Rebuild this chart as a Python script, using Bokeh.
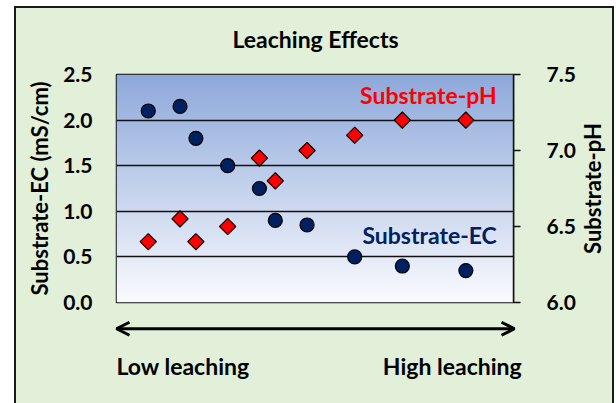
import math
import numpy as np
from bokeh.plotting import figure
from bokeh.layouts import column, row
from bokeh.models import (LinearAxis, Range1d, Label, Arrow, OpenHead,
                          SingleIntervalTicker, NumeralTickFormatter)
from bokeh.embed import file_html
from bokeh.resources import INLINE

# ---- data ----
leaching = [2, 4, 5, 7, 9, 10, 12, 15, 18, 22]
substrate_ec = [2.10, 2.15, 1.80, 1.50, 1.25, 0.90, 0.85, 0.50, 0.40, 0.35]
substrate_ph = [6.40, 6.55, 6.40, 6.50, 6.95, 6.80, 7.00, 7.10, 7.20, 7.20]
x_lim = (0, 25)
ec_lim = (0.0, 2.5)
ph_lim = (6.0, 7.5)
title_text = "Leaching Effects"
ec_label = "Substrate-EC (mS/cm)"
ph_label = "Substrate-pH"
low_text = "Low leaching"
high_text = "High leaching"

FONT = "Lato"
BG = "#e2efd9"
INK = "#111111"

# ---- layout numbers ----
W = 596
WR = 34                      # strip holding the right axis title
WP = W - WR
FRAME_W, FRAME_H = 398, 228
HT = 52                      # strip holding the chart title
B_LEFT, B_TOP, B_BOTTOM = 100, 14, 14
B_RIGHT = WP - B_LEFT - FRAME_W
H1 = B_TOP + FRAME_H + B_BOTTOM
H2 = 395 - HT - H1


def no_align(fig):
    try:
        fig.frame_align = False
    except Exception:
        pass


def strip(width, height, xr, yr):
    f = figure(width=width, height=height, output_backend="svg", toolbar_location=None,
               x_range=xr, y_range=yr, x_axis_location=None, y_axis_location=None,
               min_border_left=0, min_border_right=0, min_border_top=0, min_border_bottom=0)
    no_align(f)
    f.border_fill_color = BG
    f.background_fill_color = BG
    f.outline_line_color = None
    f.grid.visible = False
    return f


p = figure(width=WP, height=H1, output_backend="svg", toolbar_location=None,
           x_range=Range1d(*x_lim), y_range=Range1d(*ec_lim),
           x_axis_location=None, min_border_left=B_LEFT, min_border_right=B_RIGHT,
           min_border_top=B_TOP, min_border_bottom=B_BOTTOM)
no_align(p)
p.border_fill_color = BG
p.background_fill_color = "white"
p.outline_line_color = INK
p.outline_line_width = 1.5
p.xgrid.visible = False
p.ygrid.grid_line_color = INK
p.ygrid.grid_line_width = 1.5
p.ygrid.ticker = SingleIntervalTicker(interval=0.5)

# gradient background of the frame
n = 256
top = np.array([0x8e, 0xa9, 0xdb], dtype=float)
bot = np.array([0xfa, 0xfb, 0xfe], dtype=float)
t = np.linspace(0, 1, n)[:, None]
rgb = bot * (1 - t) + top * t
img = np.zeros((n, 1), dtype=np.uint32)
view = img.view(dtype=np.uint8).reshape((n, 1, 4))
view[:, 0, 0] = rgb[:, 0].astype(np.uint8)
view[:, 0, 1] = rgb[:, 1].astype(np.uint8)
view[:, 0, 2] = rgb[:, 2].astype(np.uint8)
view[:, 0, 3] = 255
p.image_rgba(image=[img], x=x_lim[0], y=ec_lim[0], dw=x_lim[1] - x_lim[0],
             dh=ec_lim[1] - ec_lim[0], level="image")


def style_axis(a):
    a.major_label_text_font = FONT
    a.major_label_text_font_style = "bold"
    a.major_label_text_font_size = "21px"
    a.major_label_text_color = "black"
    a.axis_label_text_font = FONT
    a.axis_label_text_font_style = "bold"
    a.axis_label_text_font_size = "22px"
    a.axis_label_text_color = "black"
    a.minor_tick_line_color = None
    a.ticker = SingleIntervalTicker(interval=0.5)
    a.formatter = NumeralTickFormatter(format="0.0")


# left axis
ax = p.yaxis[0]
style_axis(ax)
ax.axis_label = ec_label
ax.axis_line_color = None
ax.major_tick_out = 0
ax.major_tick_in = 0
ax.major_label_standoff = 20
ax.axis_label_standoff = 7

# right axis (its title is drawn in the strip on the right)
p.extra_y_ranges = {"ph": Range1d(*ph_lim)}
rax = LinearAxis(y_range_name="ph")
style_axis(rax)
rax.axis_line_color = INK
rax.axis_line_width = 1.5
rax.major_tick_line_color = INK
rax.major_tick_line_width = 1.5
rax.major_tick_out = 7
rax.major_tick_in = 0
rax.major_label_standoff = 26
p.add_layout(rax, "right")

# data
p.scatter(leaching, substrate_ph, marker="square", angle=math.pi / 4, size=11.5,
          fill_color="#ff0000", line_color="black", line_width=1.2, y_range_name="ph")
p.scatter(leaching, substrate_ec, marker="circle", size=14,
          fill_color="#002060", line_color="black", line_width=1.2)

# in-plot labels
p.add_layout(Label(x=x_lim[1] - 1.05, y=2.27, text="Substrate-pH", text_align="right",
                   text_baseline="alphabetic", text_font=FONT, text_font_style="bold",
                   text_font_size="23px", text_color="#ff0000"))
p.add_layout(Label(x=x_lim[1] - 1.05, y=0.74, text="Substrate-EC", text_align="right",
                   text_baseline="alphabetic", text_font=FONT, text_font_style="bold",
                   text_font_size="23px", text_color="#002060"))

# shared scales for the strips (same pixel scale as the plot frame)
x_per_px = (x_lim[1] - x_lim[0]) / FRAME_W
ec_per_px = (ec_lim[1] - ec_lim[0]) / FRAME_H
full_x = Range1d(x_lim[0] - B_LEFT * x_per_px, x_lim[1] + (W - B_LEFT - FRAME_W) * x_per_px)

# ---- top strip: chart title ----
tt = strip(W, HT, full_x, Range1d(ec_lim[1] + B_TOP * ec_per_px,
                                   ec_lim[1] + (B_TOP + HT) * ec_per_px))
tt.add_layout(Label(x=(x_lim[0] + x_lim[1]) / 2, y=2.89, text=title_text,
                    text_align="center", text_baseline="alphabetic", text_font=FONT,
                    text_font_style="bold", text_font_size="23px", text_color="black"))

# ---- right strip: title of the pH axis, reading upwards ----
r = strip(WR, H1, Range1d(0, WR), Range1d(ec_lim[0] - B_BOTTOM * ec_per_px,
                                          ec_lim[1] + B_TOP * ec_per_px))
r.add_layout(Label(x=14, y=(ec_lim[0] + ec_lim[1]) / 2, text=ph_label, angle=math.pi / 2,
                   text_align="center", text_baseline="middle", text_font=FONT,
                   text_font_style="bold", text_font_size="22px", text_color="black"))

# ---- bottom strip: arrow and leaching labels ----
q = strip(W, H2, full_x, Range1d(ec_lim[0] - (B_BOTTOM + H2) * ec_per_px,
                                 ec_lim[0] - B_BOTTOM * ec_per_px))
q.add_layout(Arrow(x_start=x_lim[0], y_start=-0.288, x_end=x_lim[1], y_end=-0.288,
                   line_width=3, line_color="black",
                   start=OpenHead(size=13, line_width=3, line_color="black"),
                   end=OpenHead(size=13, line_width=3, line_color="black")))
q.add_layout(Label(x=x_lim[0], y=-0.694, text=low_text, text_align="left",
                   text_baseline="alphabetic", text_font=FONT, text_font_style="bold",
                   text_font_size="23px", text_color="black"))
q.add_layout(Label(x=x_lim[1] + 0.45, y=-0.694, text=high_text, text_align="right",
                   text_baseline="alphabetic", text_font=FONT, text_font_style="bold",
                   text_font_size="23px", text_color="black"))

layout = column(tt, row(p, r, spacing=0), q, spacing=0)
layout.styles = {"margin-left": "16px", "margin-top": "8px",
                 "background-color": BG, "box-shadow": "0 0 0 2px #1a1a1a"}

open("out.html", "w").write(file_html(layout, INLINE))
